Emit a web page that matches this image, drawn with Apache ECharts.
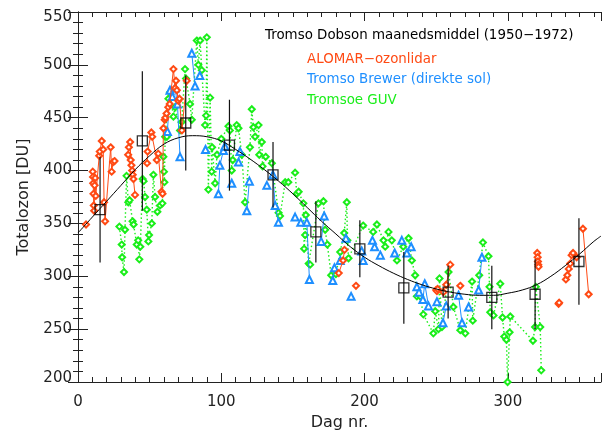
<!DOCTYPE html>
<html><head><meta charset="utf-8">
<script src="https://cdn.jsdelivr.net/npm/echarts/dist/echarts.min.js"></script>
<style>html,body{margin:0;padding:0;background:#fff}#c{width:604px;height:432px}</style>
</head><body><div id="c"></div>
<script>
// ---------- data ----------
const xTickLabels = [0, 100, 200, 300];
const yTickLabels = [200, 250, 300, 350, 400, 450, 500, 550];

// Dobson monthly means (1950-1972)
const dobsonDays = [15.4, 44.9, 75.2, 105.7, 136.1, 166, 196.7, 227.4, 258.3, 288.8, 319, 349.6];
const dobsonMean = [363, 428, 445, 424, 396, 342, 326, 289, 285, 280, 283, 314];
const dobsonSd   = [50, 66, 45, 43, 31, 29, 27, 34, 25, 30, 33, 41];

// smooth fitted curve
const curveDays = [0,10,20,30,40,50,60,70,80,90,100,110,120,130,140,150,160,170,180,190,200,210,220,230,240,250,260,270,280,290,300,310,320,330,340,350,360,365];
const curveVals = [341,356,371,386,401,414,425,431,433,432,428,420,411,401,390,378,365,352,340,328,318,310,303,297,292,288,285,283,282,282,284,287,292,300,310,321,333,338];

// ALOMAR ozone lidar
const alomarDays = [5.6,10.3,10.5,10.6,10.8,11,11.3,11.6,12,12.4,14.8,15.2,16.6,17.6,18.2,18.9,22.8,23.5,24.5,25.5,
  35,35.5,36.4,36.8,37.3,37.8,38.2,38.7,39.8,48.2,48.6,51.2,51.8,55,56,58.3,59,59.6,60.5,61,61.8,63,64,66.6,67.8,68.4,69,70,70.8,72.5,75.9,
  182,185,186,194,250,250.5,251,255,257,259.8,266.8,320.5,320.8,321,321.2,321.4,335.4,335.8,340.5,341.5,342.5,343.5,344.5,345.5,348,352.4,356.4];
const alomarVals = [349,399,394,388,378,367,362,386,393,376,414,418,428,420,370,352,422,399,408,409,
  415,422,427,410,405,400,396,392,377,407,418,436,432,410,416,380,378,440,448,450,454,460,463,496,478,485,476,466,468,438,485,
  303,315,325,291,287,286,288,285,292,311,291,322,318,314,311,309,274,275,297,301,307,312,320,322,318,345,283];

// Tromso Brewer (direct sun)
const brewerDays = [62.4,64.2,65.8,67.7,69.4,71.2,79.4,81.7,85,89,98,99,101.5,102.5,107.3,112,113,117.8,119.6,131.8,136,137.6,139.9,151.5,155.5,159.7,161.5,169.7,171.8,177.8,179,183,187,190.6,198,199,205.5,207,211,221,226,229.5,232.5,236.5,238,240.7,242,244.6,250.5,254.7,257,265.6,268,272.6,279.6,281.9];
const brewerVals = [437,476,470,478,463,413,511,480,490,420,378,405,419,423,388,408,418,362,390,386,396,367,351,356,351,351,297,333,357,296,308,315,336,281,324,315,334,328,320,322,334,322,328,290,285,278,293,272,276,256,272,282,256,271,287,318];

// Tromsoe GUV
const guvDays = [28.9,30.5,30.8,32.1,32.8,33.9,35.1,36,38.1,38.8,41,42,42.8,43.5,45.1,45.8,46.8,48,49.1,49.6,51.5,52.6,53.8,55.4,57.3,58.9,59.6,60,60.3,60.8,62,63.1,64.2,66.6,67.7,71.2,72.4,74.7,75.4,78.2,79.4,82.9,84,85.2,86.4,88.7,89.4,89.9,91,92.2,93.3,93.6,95.7,97,100,105,106,107.3,108,110.8,112,114.3,116.6,120,121.3,122.4,123.6,126,126.5,128.3,128.8,131,135.3,140,141,144.6,146.8,151.5,152.7,154,157.3,157.8,158.5,159,161,162,167.8,171.3,172.5,174,176.7,180,183,185.8,187.6,188,188.8,199,206,208.6,213.2,214.4,216.7,219,222.6,227,230.7,233,235.3,236.5,238.8,241,248,249.3,251.6,252.3,254,258.6,262,266.8,270.3,275,275.5,280,282.6,286.5,287.2,287.7,290,294.7,296.3,297.5,299,299.8,301.2,301.7,317.5,319,319.5,322.6,323.3];
const guvVals = [347,330,318,304,344,395,370,372,352,349,330,334,316,328,392,390,375,363,333,339,350,396,375,361,367,369,413,399,389,432,432,468,474,451,460,438,446,496,487,463,448,523,500,523,495,443,452,526,382,469,399,422,388,415,430,442,438,400,410,443,440,415,370,422,458,441,432,443,415,427,404,413,407,360,357,389,389,398,378,380,369,326,339,358,312,311,369,371,344,330,301,302,323,341,370,334,317,348,342,349,334,328,342,334,315,328,336,315,301,281,281,264,246,267,250,298,252,304,271,249,246,295,258,301,332,319,290,266,263,293,261,243,240,200,247,262,239,252,290,252,211];

const legendTexts = ['Tromso Dobson maanedsmiddel (1950\u22121972)', 'ALOMAR\u2212ozonlidar', 'Tromso Brewer (direkte sol)', 'Tromsoe GUV'];

// ---------- build ----------
function withBreaks(days, vals, maxGap) {
  const out = [];
  for (let i = 0; i < days.length; i++) {
    if (i > 0 && days[i] - days[i - 1] > maxGap) out.push([(days[i] + days[i - 1]) / 2, '-']);
    out.push([days[i], vals[i]]);
  }
  return out;
}
const RED = '#ff4a14', BLUE = '#1e8fff', GREEN = '#1aee1a';
const FONT = 'DejaVu Sans';
const grid = {left: 78, right: 3, top: 12, bottom: 50, containLabel: false, outerBoundsMode: 'none'};
const axisLine = {show: true, lineStyle: {color: '#222', width: 1}};
const yMin = yTickLabels[0], yMax = yTickLabels[yTickLabels.length - 1];

const chart = echarts.init(document.getElementById('c'), null, {renderer: 'canvas'});
chart.setOption({
  animation: false,
  backgroundColor: '#fff',
  grid: [Object.assign({}, grid), Object.assign({}, grid)],
  xAxis: [
    {gridIndex: 0, type: 'value', position: 'bottom', min: 0, max: 365, interval: 100,
     axisLine, splitLine: {show: false},
     axisTick: {inside: true, length: 9, lineStyle: {color: '#222'}},
     axisLabel: {fontFamily: FONT, fontSize: 15, color: '#222', margin: 13,
       formatter: v => xTickLabels.includes(v) ? String(v) : ''},
     name: 'Dag nr.', nameLocation: 'middle', nameGap: 31,
     nameTextStyle: {fontFamily: FONT, fontSize: 16, color: '#222'}},
    {gridIndex: 0, type: 'value', position: 'top', min: 0, max: 365, interval: 100,
     axisLine, splitLine: {show: false}, axisLabel: {show: false},
     axisTick: {inside: true, length: 9, lineStyle: {color: '#222'}}},
    {gridIndex: 1, type: 'value', position: 'bottom', min: 0, max: 365, interval: 10,
     axisLine: {show: false}, splitLine: {show: false}, axisLabel: {show: false},
     axisTick: {inside: true, length: 5, lineStyle: {color: '#222'}}},
    {gridIndex: 1, type: 'value', position: 'top', min: 0, max: 365, interval: 10,
     axisLine: {show: false}, splitLine: {show: false}, axisLabel: {show: false},
     axisTick: {inside: true, length: 5, lineStyle: {color: '#222'}}}
  ],
  yAxis: [
    {gridIndex: 0, type: 'value', position: 'left', min: yMin, max: yMax, interval: 50,
     axisLine, splitLine: {show: false},
     axisTick: {inside: true, length: 10, lineStyle: {color: '#222'}},
     minorTick: {show: true, splitNumber: 5, length: 5, lineStyle: {color: '#222'}},
     axisLabel: {fontFamily: FONT, fontSize: 15, color: '#222', margin: 6,
       formatter: v => v === yMax ? '{hi|' + v + '}' : (v === yMin ? '{lo|' + v + '}' : String(v)),
       rich: {hi: {fontFamily: FONT, fontSize: 15, color: '#222', padding: [10, 0, 0, 0]},
              lo: {fontFamily: FONT, fontSize: 15, color: '#222', padding: [0, 0, 8, 0]}}},
     name: 'Totalozon [DU]', nameLocation: 'middle', nameGap: 46,
     nameTextStyle: {fontFamily: FONT, fontSize: 16, color: '#222'}},
    {gridIndex: 0, type: 'value', position: 'right', min: yMin, max: yMax, interval: 50,
     axisLine, splitLine: {show: false}, axisLabel: {show: false},
     axisTick: {inside: true, length: 10, lineStyle: {color: '#222'}},
     minorTick: {show: true, splitNumber: 5, length: 5, lineStyle: {color: '#222'}}},
    {gridIndex: 1, type: 'value', min: yMin, max: yMax, show: false}
  ],
  series: [
    {type: 'line', name: 'GUV', xAxisIndex: 0, yAxisIndex: 0,
     data: withBreaks(guvDays, guvVals, 40),
     symbol: 'emptyDiamond', symbolSize: 6, showAllSymbol: true,
     lineStyle: {color: GREEN, width: 1.4, type: [1.5, 2.5]},
     itemStyle: {color: GREEN, borderWidth: 1.2}, z: 3},
    {type: 'line', name: 'Brewer', xAxisIndex: 0, yAxisIndex: 0,
     data: withBreaks(brewerDays, brewerVals, 2.6),
     symbol: 'emptyTriangle', symbolSize: 7, showAllSymbol: true,
     lineStyle: {color: BLUE, width: 1},
     itemStyle: {color: BLUE, borderWidth: 1.2}, z: 4},
    {type: 'line', name: 'ALOMAR', xAxisIndex: 0, yAxisIndex: 0,
     data: withBreaks(alomarDays, alomarVals, 4),
     symbol: 'emptyDiamond', symbolSize: 6, showAllSymbol: true,
     lineStyle: {color: RED, width: 1},
     itemStyle: {color: RED, borderWidth: 1.2}, z: 5},
    {type: 'line', name: 'fit', xAxisIndex: 0, yAxisIndex: 0,
     data: curveDays.map((d, i) => [d, curveVals[i]]),
     smooth: 0.4, symbol: 'none', lineStyle: {color: '#000', width: 1}, z: 6},
    {type: 'custom', name: 'sd', xAxisIndex: 0, yAxisIndex: 0,
     data: dobsonDays.map((d, i) => [d, dobsonMean[i], dobsonMean[i] - dobsonSd[i], dobsonMean[i] + dobsonSd[i]]),
     renderItem: (params, api) => {
       const p1 = api.coord([api.value(0), api.value(2)]);
       const p2 = api.coord([api.value(0), api.value(3)]);
       return {type: 'line', shape: {x1: p1[0], y1: p1[1], x2: p2[0], y2: p2[1]},
               style: {stroke: '#111', lineWidth: 1.2}};
     }, z: 7},
    {type: 'scatter', name: 'Dobson', xAxisIndex: 0, yAxisIndex: 0,
     data: dobsonDays.map((d, i) => [d, dobsonMean[i]]),
     symbol: 'rect', symbolSize: 10,
     itemStyle: {color: 'rgba(0,0,0,0)', borderColor: '#000', borderWidth: 1.3}, z: 8}
  ],
  graphic: [
    {type: 'text', left: 265, top: 29, style: {text: legendTexts[0], fill: '#000', font: '13.4px "DejaVu Sans"'}},
    {type: 'text', left: 307, top: 53, style: {text: legendTexts[1], fill: RED, font: '13.4px "DejaVu Sans"'}},
    {type: 'text', left: 307, top: 73, style: {text: legendTexts[2], fill: BLUE, font: '13.4px "DejaVu Sans"'}},
    {type: 'text', left: 307, top: 94, style: {text: legendTexts[3], fill: GREEN, font: '13.4px "DejaVu Sans"'}}
  ]
});
</script></body></html>
